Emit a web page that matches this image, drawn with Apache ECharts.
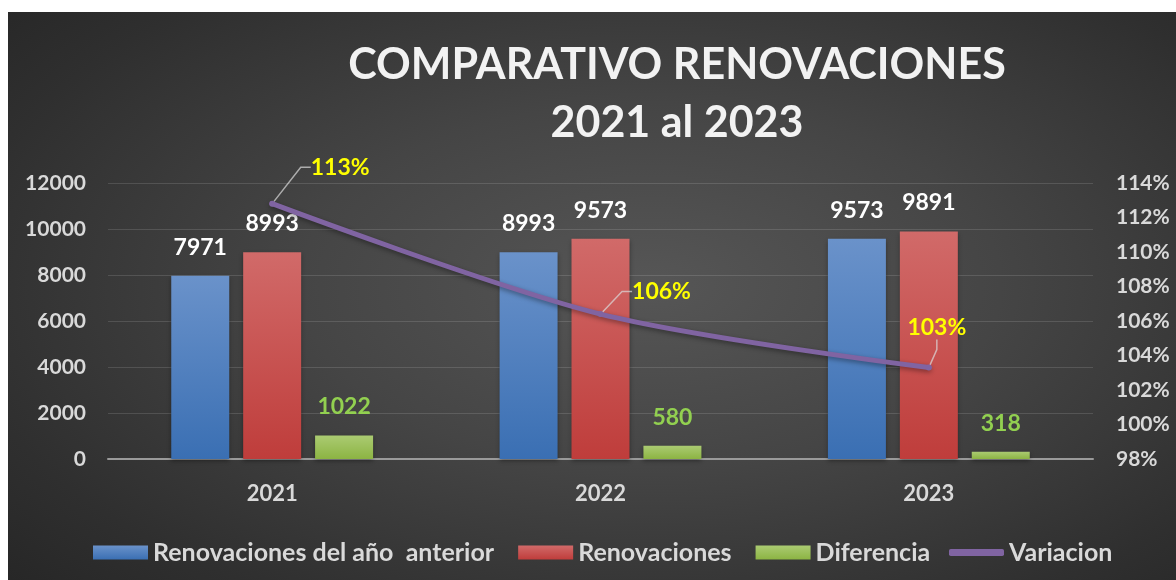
<!DOCTYPE html>
<html>
<head>
<meta charset="utf-8">
<script src="https://cdn.jsdelivr.net/npm/echarts@6/dist/echarts.min.js"></script>
<style>
  html, body { margin: 0; padding: 0; background: #fff; }
  #main {
    position: absolute; left: 8px; top: 12px; width: 1168px; height: 568px;
    background: radial-gradient(ellipse 75% 80% at 55% 48%, #565656 0%, #454545 40%, #2f2f2f 80%, #262626 100%);
  }
</style>
</head>
<body>
<div id="main"></div>
<script>
// datos del grafico
const years = ['2021', '2022', '2023'];
const anterior = [7971, 8993, 9573];
const renovaciones = [8993, 9573, 9891];
const diferencia = [1022, 580, 318];
const variacion = [112.8, 106.4, 103.3];
const variacionLabels = ['113%', '106%', '103%'];

const font = 'Lato, "Open Sans", sans-serif';
const grad = (top, bottom) => new echarts.graphic.LinearGradient(0, 0, 0, 1, [
  { offset: 0, color: top }, { offset: 1, color: bottom }
]);
const blue = grad('#6a92ca', '#3a6fb3');
const red = grad('#d16a69', '#bf3d3b');
const green = grad('#abcb72', '#8cb443');

// desplazamiento de las etiquetas de la linea
const labelShift = [[68, -17], [61, -3], [8, -20]];

const chart = echarts.init(document.getElementById('main'));

const barLabel = color => ({
  show: true, position: 'top', distance: 17,
  color: color, fontFamily: font, fontWeight: 'bold', fontSize: 23
});
const axisText = { color: '#d9d9d9', fontFamily: font, fontWeight: 'bold', fontSize: 21 };
const legendText = { color: '#d9d9d9', fontFamily: font, fontWeight: 'bold', fontSize: 25 };

const option = {
  backgroundColor: 'transparent',
  textStyle: { fontFamily: font },
  title: {
    text: 'COMPARATIVO RENOVACIONES\n2021 al 2023',
    left: 664, top: 19, textAlign: 'center',
    textStyle: {
      color: '#f2f2f2', fontFamily: font, fontWeight: 'bold',
      fontSize: 43, lineHeight: 58
    }
  },
  legend: [
    {
      data: ['Renovaciones del año  anterior', 'Renovaciones', 'Diferencia'],
      left: 80, top: 523, icon: 'rect', itemWidth: 55, itemHeight: 14, itemGap: 24,
      textStyle: legendText
    },
    {
      data: ['Variacion'],
      left: 936, top: 523, icon: 'roundRect', itemWidth: 55, itemHeight: 7,
      textStyle: legendText
    }
  ],
  grid: { left: 100, right: 83, top: 171, bottom: 121 },
  xAxis: {
    type: 'category', data: years,
    axisTick: { show: false },
    axisLine: { lineStyle: { color: '#9a9a9a', width: 2 } },
    axisLabel: Object.assign({ margin: 24 }, axisText, { fontSize: 22 })
  },
  yAxis: [
    {
      type: 'value', min: 0, max: 12000, interval: 2000,
      axisLine: { show: false }, axisTick: { show: false },
      splitLine: { lineStyle: { color: 'rgba(255,255,255,0.13)', width: 1 } },
      axisLabel: Object.assign({ margin: 22, formatter: v => String(v) }, axisText)
    },
    {
      type: 'value', min: 98, max: 114, interval: 2,
      axisLine: { show: false }, axisTick: { show: false }, splitLine: { show: false },
      axisLabel: Object.assign({ margin: 23, formatter: '{value}%' }, axisText)
    }
  ],
  series: [
    {
      name: 'Renovaciones del año  anterior', type: 'bar', data: anterior,
      barWidth: 58, barGap: '24%',
      itemStyle: { color: blue, shadowColor: 'rgba(0,0,0,0.35)', shadowBlur: 4, shadowOffsetY: 2 },
      label: barLabel('#ffffff')
    },
    {
      name: 'Renovaciones', type: 'bar', data: renovaciones,
      barWidth: 58, barGap: '24%',
      itemStyle: { color: red, shadowColor: 'rgba(0,0,0,0.35)', shadowBlur: 4, shadowOffsetY: 2 },
      label: barLabel('#ffffff')
    },
    {
      name: 'Diferencia', type: 'bar', data: diferencia,
      barWidth: 58, barGap: '24%',
      itemStyle: { color: green, shadowColor: 'rgba(0,0,0,0.35)', shadowBlur: 4, shadowOffsetY: 2 },
      label: barLabel('#92d050')
    },
    {
      name: 'Variacion', type: 'line', yAxisIndex: 1, data: variacion,
      smooth: 0.3, symbol: 'circle', symbolSize: 6,
      itemStyle: { color: '#8064a2' },
      lineStyle: { color: '#8064a2', width: 5, cap: 'round',
        shadowColor: 'rgba(0,0,0,0.4)', shadowBlur: 5, shadowOffsetY: 2 },
      label: {
        show: true, position: 'top', distance: 5,
        formatter: p => variacionLabels[p.dataIndex],
        color: '#ffff00', fontFamily: font, fontWeight: 'bold', fontSize: 23
      },
      labelLayout: p => ({ dx: labelShift[p.dataIndex][0], dy: labelShift[p.dataIndex][1] }),
      labelLine: { show: true, length2: 10, lineStyle: { color: 'rgba(220,220,220,0.7)', width: 1.5 } },
      z: 5
    }
  ]
};

chart.setOption(option);
</script>
</body>
</html>
